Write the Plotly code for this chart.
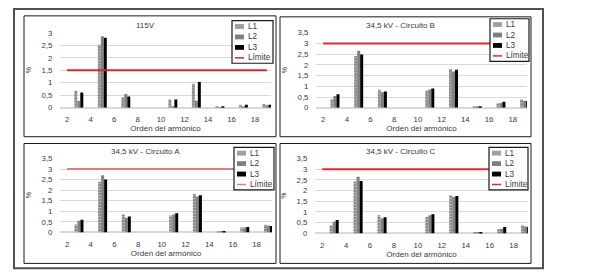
import plotly.graph_objects as go

# page body has an 8px margin; figure fills the rest of the 589x280 window
OFF = 8
W, H = 589 - OFF, 280 - OFF

harmonics = [3, 5, 7, 9, 11, 13, 15, 17, 19]
x_ticks = [2, 4, 6, 8, 10, 12, 14, 16, 18]
series_names = ["L1", "L2", "L3"]
limit_name = "Límite"
x_title = "Orden del armónico"
y_title = "%"

titles = ["115V", "34,5 kV - Circuito B", "34,5 kV - Circuito A", "34,5 kV - Circuito C"]
limits = [1.5, 3.0, 3.0, 3.0]
y_max = [3.0, 3.5, 3.5, 3.5]

v115_L1 = [0.68, 2.52, 0.42, 0, 0.33, 0.96, 0.03, 0.12, 0.15]
v115_L2 = [0.27, 2.86, 0.55, 0, 0.05, 0.28, 0.01, 0.04, 0.10]
v115_L3 = [0.61, 2.80, 0.45, 0, 0.33, 1.03, 0.02, 0.12, 0.12]

vB_L1 = [0.40, 2.41, 0.84, 0, 0.80, 1.81, 0.07, 0.20, 0.38]
vB_L2 = [0.55, 2.66, 0.72, 0, 0.85, 1.69, 0.03, 0.22, 0.33]
vB_L3 = [0.63, 2.48, 0.76, 0, 0.90, 1.77, 0.05, 0.28, 0.31]

vA_L1 = [0.38, 2.40, 0.85, 0, 0.80, 1.82, 0.05, 0.24, 0.36]
vA_L2 = [0.55, 2.70, 0.70, 0, 0.85, 1.70, 0.03, 0.24, 0.33]
vA_L3 = [0.60, 2.50, 0.76, 0, 0.91, 1.76, 0.03, 0.26, 0.30]

vC_L1 = [0.38, 2.42, 0.85, 0, 0.77, 1.78, 0.05, 0.20, 0.38]
vC_L2 = [0.55, 2.65, 0.70, 0, 0.85, 1.70, 0.03, 0.22, 0.32]
vC_L3 = [0.63, 2.45, 0.75, 0, 0.90, 1.75, 0.03, 0.30, 0.30]

panels_data = [
    [v115_L1, v115_L2, v115_L3],
    [vB_L1, vB_L2, vB_L3],
    [vA_L1, vA_L2, vA_L3],
    [vC_L1, vC_L2, vC_L3],
]

FONT = "Liberation Sans, Arial, sans-serif"
TXT = "#3a3a3a"
bar_colors = ["#9a9a9a", "#808080", "#000000"]
red_colors = ["#d9262b", "#dd2b30", "#e47a7e", "#dd2b30"]

# geometry in window pixels: plot area (x0, x1), (y_top, y_bottom), x range
geo = [
    dict(px=(60, 271), py=(29, 107), xr=(1.4, 19.35)),
    dict(px=(316, 527), py=(29, 107), xr=(1.4, 19.2)),
    dict(px=(60, 272), py=(159, 236), xr=(1.4, 19.3)),
    dict(px=(315, 528), py=(159, 237), xr=(1.4, 19.2)),
]
frames = [(24, 12, 276, 137), (280, 13, 531, 137), (24, 144, 276, 268), (280, 144, 531, 268)]
legend_boxes = [(232, 17, 41), (490, 15, 39), (234, 148, 40), (489, 148, 39)]

def fx(p):
    return (p - OFF) / W

def fy(p):
    return 1 - (p - OFF) / H

fig = go.Figure()
shapes = []
annotations = []

for i in range(4):
    sx = "" if i == 0 else str(i + 1)
    xa, ya = "x" + sx, "y" + sx
    for j, name in enumerate(series_names):
        marker = dict(color=bar_colors[j], line=dict(width=0))
        if j == 0:
            marker["pattern"] = dict(shape="-", fgcolor="#d8d8d8", bgcolor="#8a8a8a", size=3, solidity=0.35)
        fig.add_trace(go.Bar(x=harmonics, y=panels_data[i][j], name=name, marker=marker,
                             xaxis=xa, yaxis=ya, showlegend=False, offsetgroup=str(j)))
    fig.add_trace(go.Scatter(x=[x_ticks[0], harmonics[-1]], y=[limits[i], limits[i]], mode="lines",
                             line=dict(color=red_colors[i], width=2), name=limit_name,
                             xaxis=xa, yaxis=ya, showlegend=False))
    g = geo[i]
    fig.layout["xaxis" + sx] = dict(
        domain=[fx(g["px"][0]), fx(g["px"][1])], range=list(g["xr"]), anchor=ya,
        tickvals=x_ticks, showgrid=False, zeroline=False, showline=False,
        ticks="outside", ticklen=4, tickcolor="rgba(0,0,0,0)",
        tickfont=dict(family=FONT, size=7.8, color=TXT),
        title=dict(text=x_title, font=dict(family=FONT, size=8, color=TXT), standoff=1),
    )
    fig.layout["yaxis" + sx] = dict(
        domain=[fy(g["py"][1]), fy(g["py"][0])], range=[0, y_max[i] + 0.02], anchor=xa,
        dtick=0.5, tick0=0, showgrid=True, gridcolor="#d9d9d9", gridwidth=1,
        zeroline=True, zerolinecolor="#d9d9d9", showline=False,
        ticks="outside", ticklen=5, tickcolor="rgba(0,0,0,0)",
        tickfont=dict(family=FONT, size=7.8, color=TXT),
        title=dict(text=y_title, font=dict(family=FONT, size=7, color=TXT), standoff=9),
    )
    # panel title
    cx = (frames[i][0] + frames[i][2]) / 2 - 5
    annotations.append(dict(text=titles[i], x=fx(cx), y=fy(g["py"][0] - 7), xref="paper", yref="paper",
                            showarrow=False, font=dict(family=FONT, size=8, color=TXT),
                            xanchor="center", yanchor="middle"))
    # panel frame
    f = frames[i]
    shapes.append(dict(type="rect", xref="paper", yref="paper", x0=fx(f[0]), x1=fx(f[2]),
                       y0=fy(f[3]), y1=fy(f[1]), line=dict(color="#1a1a1a", width=1), layer="above"))
    # manual legend
    bx, by, bw = legend_boxes[i]
    bh = 44
    shapes.append(dict(type="rect", xref="paper", yref="paper", x0=fx(bx), x1=fx(bx + bw),
                       y0=fy(by + bh), y1=fy(by), line=dict(color="#1a1a1a", width=1.2),
                       fillcolor="white", layer="above"))
    labels = series_names + [limit_name]
    for k, lab in enumerate(labels):
        yc = by + 6 + k * 10.8
        if k < 3:
            shapes.append(dict(type="rect", xref="paper", yref="paper", x0=fx(bx + 3), x1=fx(bx + 12),
                               y0=fy(yc + 2.5), y1=fy(yc - 2.5), line=dict(width=0),
                               fillcolor=["#a0a0a0", "#808080", "#000000"][k], layer="above"))
        else:
            shapes.append(dict(type="line", xref="paper", yref="paper", x0=fx(bx + 3), x1=fx(bx + 12),
                               y0=fy(yc), y1=fy(yc), line=dict(color=red_colors[i], width=1.5),
                               layer="above"))
        annotations.append(dict(text=lab, x=fx(bx + 13.5), y=fy(yc), xref="paper", yref="paper",
                                showarrow=False, xanchor="left", yanchor="middle",
                                font=dict(family=FONT, size=8.2, color=TXT)))

# outer frame
shapes.append(dict(type="rect", xref="paper", yref="paper", x0=fx(14), x1=fx(543), y0=fy(273), y1=fy(5),
                   line=dict(color="#505050", width=2), layer="above"))

fig.update_layout(
    width=W, height=H, margin=dict(l=0, r=0, t=0, b=0),
    paper_bgcolor="white", plot_bgcolor="white",
    barmode="group", bargap=0.62, bargroupgap=0,
    separators=",.", showlegend=False,
    shapes=shapes, annotations=annotations,
    font=dict(family=FONT, color=TXT),
)

fig.write_html("out.html")
